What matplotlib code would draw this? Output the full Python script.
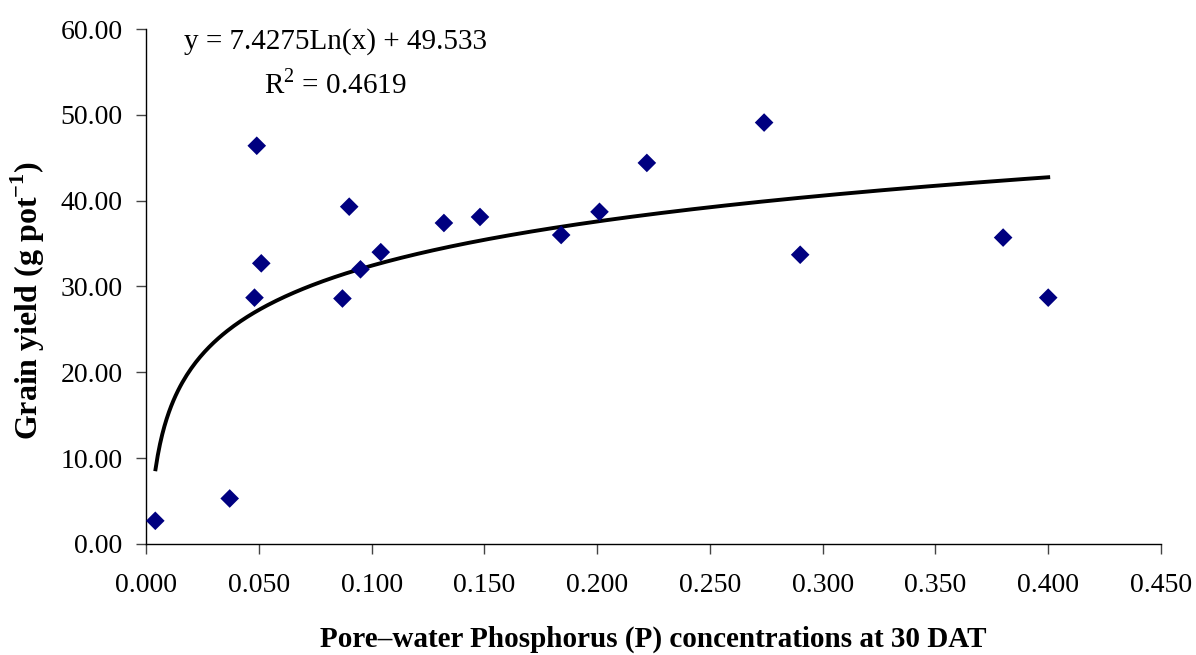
import numpy as np
import matplotlib
matplotlib.use('Agg')
import matplotlib.pyplot as plt

plt.rcParams['font.family'] = ['Liberation Serif', 'DejaVu Serif']
plt.rcParams['mathtext.fontset'] = 'custom'
plt.rcParams['mathtext.rm'] = 'Liberation Serif'
plt.rcParams['mathtext.bf'] = 'Liberation Serif:bold'

# pore-water P (x) and grain yield (y)
p_conc = [0.004, 0.037, 0.049, 0.051, 0.048, 0.090, 0.087, 0.095, 0.104,
          0.132, 0.148, 0.184, 0.201, 0.222, 0.274, 0.290, 0.380, 0.400]
grain_yield = [2.7, 5.3, 46.4, 32.7, 28.7, 39.3, 28.6, 32.0, 34.0,
               37.4, 38.1, 36.0, 38.7, 44.4, 49.1, 33.7, 35.7, 28.7]

# logarithmic trendline as printed on the chart
fit_a = 7.4275
fit_b = 49.533
fit_x_range = (0.0041, 0.400)

x_ticks = np.arange(0, 0.451, 0.05)
y_ticks = np.arange(0, 60.1, 10)

fig = plt.figure(figsize=(11.96, 6.55), dpi=100)
ax = fig.add_axes([0.1223, 0.1695, 0.8484, 0.7862])

xs = np.linspace(*fit_x_range, 400)
ax.plot(xs, fit_a * np.log(xs) + fit_b, color='black', lw=2.8, zorder=2)
ax.scatter(p_conc, grain_yield, marker='D', s=90, color='#000080',
           edgecolors='none', zorder=3)

ax.set_xlim(0, 0.45)
ax.set_ylim(0, 60)
ax.set_xticks(x_ticks)
ax.set_yticks(y_ticks)
ax.set_xticklabels([f'{v:.3f}' for v in x_ticks])
ax.set_yticklabels([f'{v:.2f}' for v in y_ticks])
ax.tick_params(direction='out', length=7, width=1, labelsize=20,
               color='#444444')
ax.tick_params(axis='x', pad=14)
ax.tick_params(axis='y', pad=10)

for side in ['top', 'right']:
    ax.spines[side].set_visible(False)
for side in ['left', 'bottom']:
    ax.spines[side].set_linewidth(1)

ax.set_xlabel('Pore\u2013water Phosphorus (P) concentrations at 30 DAT',
              fontsize=21, fontweight='bold', labelpad=20)
ax.set_ylabel(r'Grain yield (g pot$^{\mathbf{-1}}$)', fontsize=23,
              fontweight='bold')
ax.yaxis.set_label_coords(-0.0975, 0.472)

ax.text(0.0837, 57.7, f'y = {fit_a}Ln(x) + {fit_b}', fontsize=21,
        ha='center', va='baseline')
ax.text(0.0837, 52.5, r'R$^2$ = 0.4619', fontsize=21, ha='center',
        va='baseline')

fig.savefig('out.png', dpi=100)
